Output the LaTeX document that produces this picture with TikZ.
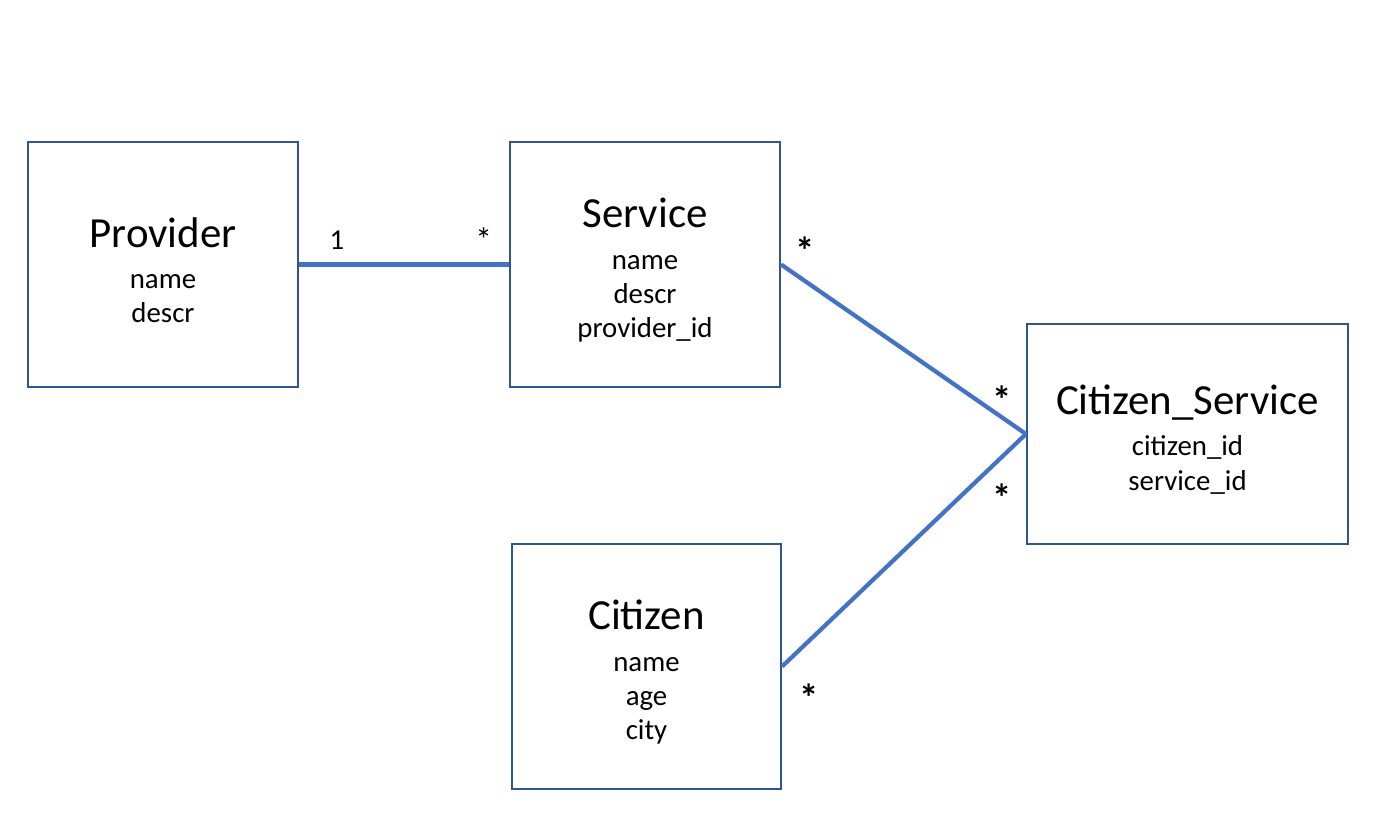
\documentclass[tikz,border=0pt]{standalone}
\usepackage{fontspec}
\setmainfont{Carlito}
\usepackage{tikz}
\usetikzlibrary{positioning}
\definecolor{boxblue}{HTML}{2F5597}
\definecolor{lineblue}{HTML}{4472C4}
\tikzset{entity/.style={draw=boxblue,line width=0.55pt,rectangle,align=center,
         font=\fontsize{8.2}{9.7}\selectfont,inner sep=0pt,minimum width=2.7cm,minimum height=2.45cm}}
\tikzset{assoc/.style={draw=lineblue,line width=1.2pt}}
\tikzset{mult/.style={font=\fontsize{8.2}{9.7}\selectfont,inner sep=1pt}}
\tikzset{multb/.style={font=\fontsize{11}{12}\selectfont\bfseries,inner sep=1pt}}
\newcommand{\EntityTitle}[1]{{\fontsize{12.2}{14}\selectfont\rule{0pt}{11.6pt}#1}\\[2pt]}

\begin{document}
\begin{tikzpicture}[x=0.01cm,y=-0.01cm]
	\useasboundingbox (0,0) rectangle (1380,822);
	
	\node (provider) [entity] at (163,264.5) {\EntityTitle{Provider}name\\descr};
	\node (service) [entity] at (645,264.5) {\EntityTitle{Service}name\\descr\\provider\_id};
	\node (citserv) [entity,minimum width=3.21cm,minimum height=2.2cm] at (1187.5,434) {\EntityTitle{Citizen\_Service}citizen\_id\\service\_id};
	\node (citizen) [entity,minimum width=2.69cm] at (646.5,666.5) {\EntityTitle{Citizen}name\\age\\city};
	
	\path[assoc]
		(provider) edge node[mult,pos=0.18,above=2.8pt] {1} node[mult,pos=0.88,above=2pt,font=\fontsize{9.5}{10}\selectfont] {*} (service);
	\path[assoc]
		(service.east) edge node[multb,pos=0,shift={(24,-14)}] {*} node[multb,pos=1,shift={(-24,-34)}] {*} (citserv.west)
		(citizen.east) edge node[multb,pos=0,shift={(27,31)}] {*} node[multb,pos=1,shift={(-24,64)}] {*} (citserv.west);
\end{tikzpicture}
\end{document}
